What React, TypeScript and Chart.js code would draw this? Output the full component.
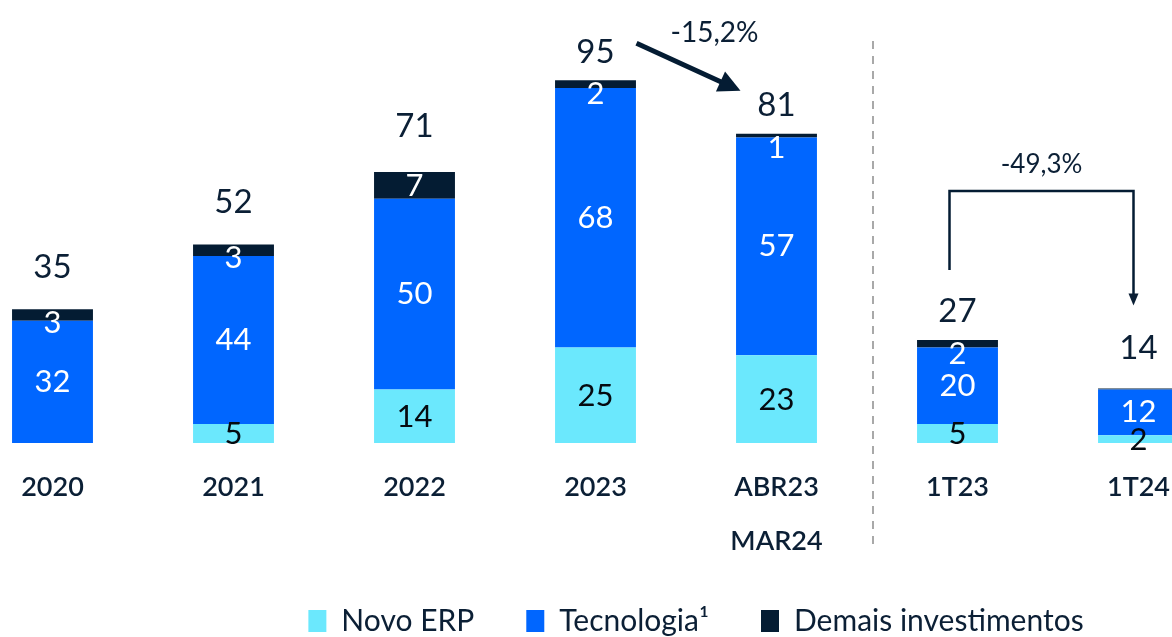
import React, { useEffect, useRef } from "react";
import { Chart, registerables } from "chart.js";

Chart.register(...registerables);

const categories: (string | string[])[] = ["2020", "2021", "2022", "2023", ["ABR23", "MAR24"], "1T23", "1T24"];
const novoErp = [0, 5, 14, 25, 23, 5, 2];
const tecnologia = [32, 44, 50, 68, 57, 20, 12];
const demais = [3, 3, 7, 2, 1, 2, 0.3];
const totals = [35, 52, 71, 95, 81, 27, 14];
const seriesNames = ["Novo ERP", "Tecnologia¹", "Demais investimentos"];
const changeAnnual = "-15,2%";
const changeQuarter = "-49,3%";

const CYAN = "#6be8fd";
const BLUE = "#0066ff";
const NAVY = "#041c33";
const TEXT = "#0b1f35";
const FONT = "Lato, 'Noto Sans', sans-serif";

const totalGap = [42, 42, 46, 28, 28, 29, 40];

const labelsPlugin = {
  id: "valueLabels",
  afterDatasetsDraw(chart: any) {
    const ctx = chart.ctx as CanvasRenderingContext2D;
    ctx.save();
    ctx.textAlign = "center";
    ctx.textBaseline = "middle";
    const values = [novoErp, tecnologia, demais];
    for (let d = 0; d < 3; d++) {
      const meta = chart.getDatasetMeta(d);
      meta.data.forEach((el: any, i: number) => {
        const v = values[d][i];
        if (v < 1) return;
        const top = Math.min(el.y, el.base);
        const bottom = Math.max(el.y, el.base);
        let cy = (top + bottom) / 2;
        if (d === 0) cy += 1;
        if (d === 2) cy = top + 14;
        ctx.font = `400 31px ${FONT}`;
        ctx.fillStyle = d === 0 ? "#050a10" : "#ffffff";
        ctx.fillText(String(v), el.x, cy);
      });
    }
    const lastMeta = chart.getDatasetMeta(2);
    lastMeta.data.forEach((el: any, i: number) => {
      ctx.font = `400 33px ${FONT}`;
      ctx.fillStyle = TEXT;
      ctx.fillText(String(totals[i]), el.x, el.y - totalGap[i]);
    });
    ctx.restore();
  },
  afterDraw(chart: any) {
    const ctx = chart.ctx as CanvasRenderingContext2D;
    const xs = chart.scales.x;
    const ys = chart.scales.y;
    const x3 = xs.getPixelForValue(3);
    const x4 = xs.getPixelForValue(4);
    const x5 = xs.getPixelForValue(5);
    const x6 = xs.getPixelForValue(6);
    ctx.save();
    ctx.strokeStyle = "#a9a9a9";
    ctx.lineWidth = 2;
    ctx.setLineDash([8, 7]);
    const sx = (x4 + x5) / 2 + 6;
    ctx.beginPath();
    ctx.moveTo(sx, 41);
    ctx.lineTo(sx, 545);
    ctx.stroke();
    ctx.setLineDash([]);

    const ax1 = x3 + 41;
    const ay1 = ys.getPixelForValue(95) - 37;
    const ax2 = x4 - 36;
    const ay2 = ys.getPixelForValue(81) - 43;
    const ang = Math.atan2(ay2 - ay1, ax2 - ax1);
    const headLen = 22;
    const headW = 11;
    const bx = ax2 - headLen * Math.cos(ang);
    const by = ay2 - headLen * Math.sin(ang);
    ctx.strokeStyle = NAVY;
    ctx.fillStyle = NAVY;
    ctx.lineWidth = 5;
    ctx.beginPath();
    ctx.moveTo(ax1, ay1);
    ctx.lineTo(bx + 2 * Math.cos(ang), by + 2 * Math.sin(ang));
    ctx.stroke();
    ctx.beginPath();
    ctx.moveTo(ax2, ay2);
    ctx.lineTo(bx + headW * Math.sin(ang), by - headW * Math.cos(ang));
    ctx.lineTo(bx - headW * Math.sin(ang), by + headW * Math.cos(ang));
    ctx.closePath();
    ctx.fill();

    ctx.font = `400 28px ${FONT}`;
    ctx.fillStyle = TEXT;
    ctx.textAlign = "center";
    ctx.textBaseline = "middle";
    ctx.fillText(changeAnnual, x4 - 62, ys.getPixelForValue(107.5));

    const lx = x5 - 8;
    const rx = x6 - 5;
    const yTop = ys.getPixelForValue(66);
    const yStart = ys.getPixelForValue(27) - 70;
    const yTip = ys.getPixelForValue(14.3) - 83;
    ctx.lineWidth = 2.5;
    ctx.lineJoin = "miter";
    ctx.beginPath();
    ctx.moveTo(lx, yStart);
    ctx.lineTo(lx, yTop);
    ctx.lineTo(rx, yTop);
    ctx.lineTo(rx, yTip - 10);
    ctx.stroke();
    ctx.beginPath();
    ctx.moveTo(rx, yTip);
    ctx.lineTo(rx - 5, yTip - 12);
    ctx.lineTo(rx + 5, yTip - 12);
    ctx.closePath();
    ctx.fill();
    ctx.font = `400 26px ${FONT}`;
    ctx.fillText(changeQuarter, (lx + rx) / 2, ys.getPixelForValue(73));
    ctx.restore();
  },
};

export default function App() {
  const ref = useRef<HTMLCanvasElement | null>(null);
  useEffect(() => {
    if (!ref.current) return;
    document.body.style.overflow = "hidden";
    Chart.defaults.font.family = FONT;
    const chart = new Chart(ref.current, {
      type: "bar",
      data: {
        labels: categories as any,
        datasets: [
          { label: seriesNames[0], data: novoErp, backgroundColor: CYAN, borderWidth: 0 },
          { label: seriesNames[1], data: tecnologia, backgroundColor: BLUE, borderWidth: 0 },
          { label: seriesNames[2], data: demais, backgroundColor: NAVY, borderWidth: 0 },
        ],
      },
      options: {
        animation: false,
        responsive: true,
        maintainAspectRatio: false,
        layout: { padding: { top: 23, left: 0, right: 0, bottom: 0 } },
        datasets: { bar: { barPercentage: 1, categoryPercentage: 0.447 } },
        scales: {
          x: {
            stacked: true,
            grid: { display: false, drawTicks: false },
            border: { display: false },
            ticks: {
              color: TEXT,
              padding: 17,
              maxRotation: 0,
              autoSkip: false,
              font: { size: 27, weight: 600 as any, lineHeight: 2 },
            },
            afterFit: (s: any) => {
              s.height = 111;
            },
          },
          y: {
            stacked: true,
            position: "right",
            min: 0,
            max: 110,
            grid: { display: false, drawTicks: false },
            border: { display: false },
            ticks: { display: false },
            afterFit: (s: any) => {
              s.width = 201;
            },
          },
        },
        plugins: {
          legend: {
            position: "bottom",
            labels: {
              color: TEXT,
              boxWidth: 18,
              boxHeight: 22,
              padding: 52,
              font: { size: 30 },
            },
          },
          tooltip: { enabled: false },
        },
      },
      plugins: [labelsPlugin],
    });
    return () => chart.destroy();
  }, []);
  return (
    <div style={{ position: "fixed", left: -38, top: 0, width: 1468, height: 646 }}>
      <canvas ref={ref} />
    </div>
  );
}
